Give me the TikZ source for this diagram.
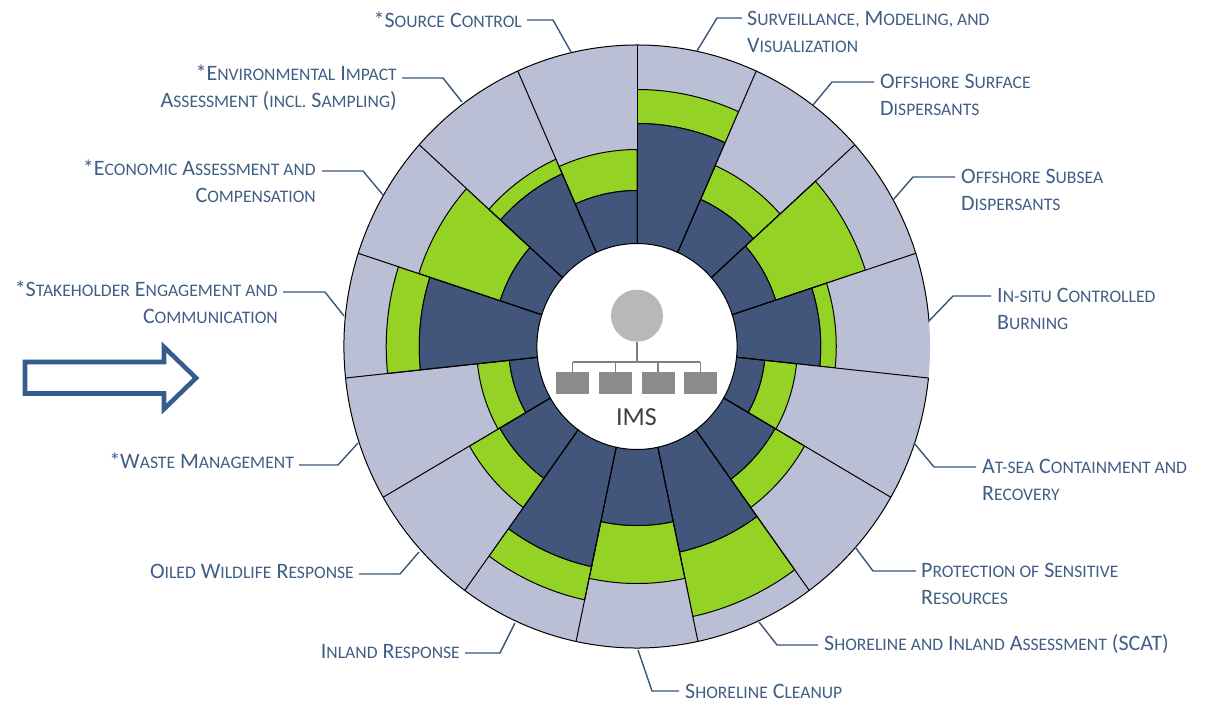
\documentclass[tikz,border=0pt]{standalone}
\usepackage{fontspec}
\setmainfont{Carlito}
\newcommand{\smc}[1]{{\fontsize{17.6}{27}\selectfont\MakeUppercase{#1}}}
\definecolor{ringblue}{HTML}{41567A}
\definecolor{ringgreen}{HTML}{95D226}
\definecolor{ringgrey}{HTML}{BBBFD5}
\definecolor{labelblue}{HTML}{3F5E85}
\definecolor{arrowblue}{HTML}{365C8C}
\begin{document}
\begin{tikzpicture}[x=1pt,y=-1pt,
    wedgeline/.style={draw=black,line width=1pt},
    leader/.style={draw=labelblue!90!black,line width=1.4pt},
    lbl/.style={inner sep=0pt,text=labelblue,font=\fontsize{22}{27}\selectfont},
    lbll/.style={lbl,anchor=west,align=left},
    lblr/.style={lbl,anchor=east,align=right},
    imsbox/.style={fill=black!45,minimum width=33pt,minimum height=22pt,inner sep=0pt},
    imsline/.style={draw=black!50,line width=1.2pt}]
\useasboundingbox (0,0) rectangle (1205,701);
% wheel
\begin{scope}[shift={(637,346.5)},x=.972pt,y=1pt]
\foreach \a/\rb/\rg in {66/223/257,42/161/198,18/150/247,-6/189/205,-30/132/165,-54/164/199,-78/210/276,-102/179/237,-126/225/259,-150/163/199,-174/132/165,162/224/258,138/148/236,114/189/205,90/156/197}{
    \fill[ringgrey](\a:\rg)arc[start angle=\a,delta angle=24,radius=\rg]--(\a+24:301.5)arc[start angle=\a+24,delta angle=-24,radius=301.5]--cycle;
    \filldraw[wedgeline,fill=ringgreen](\a:\rb)arc[start angle=\a,delta angle=24,radius=\rb]--(\a+24:\rg)arc[start angle=\a+24,delta angle=-24,radius=\rg]--cycle;
    \filldraw[wedgeline,fill=ringblue](\a:103)arc[start angle=\a,delta angle=24,radius=103]--(\a+24:\rb)arc[start angle=\a+24,delta angle=-24,radius=\rb]--cycle;
}
\foreach \a in {90,66,...,-246}{
    \draw[wedgeline](\a:103)--(\a:301.5);
}
\draw[wedgeline](5:301.5)arc[start angle=5,end angle=354,radius=301.5];
\end{scope}
% centre
\node[circle,fill=black!28,minimum size=52pt,inner sep=0pt](root)at(637,315.7){};
\node[imsbox](boxa)at(572.7,382.7){};
\node[imsbox](boxb)at(615.8,382.7){};
\node[imsbox](boxc)at(658,382.7){};
\node[imsbox](boxd)at(700.3,382.7){};
\coordinate(bus)at(637,362);
\draw[imsline](root)--(bus);
\draw[imsline](boxa.north|-bus)--(boxd.north|-bus);
\foreach \n in {boxa,boxb,boxc,boxd}{
    \draw[imsline](\n.north)--(\n.north|-bus);
}
\node[inner sep=0pt,text=black!75,font=\fontsize{26}{30}\selectfont](ims)at(636.5,417){IMS};
% labels
\node[lblr](source)at(522,20){*S\smc{ource} C\smc{ontrol}};
\node[lbll](surv)at(747,31.5){S\smc{urveillance,} M\smc{odeling, and}\\V\smc{isualization}};
\node[lbll](surface)at(880,94.5){O\smc{ffshore} S\smc{urface}\\D\smc{ispersants}};
\node[lbll](subsea)at(961,189.5){O\smc{ffshore} S\smc{ubsea}\\D\smc{ispersants}};
\node[lbll](insitu)at(997,309){I\smc{n-situ} C\smc{ontrolled}\\B\smc{urning}};
\node[lbll](atsea)at(982,480){A\smc{t-sea} C\smc{ontainment and}\\R\smc{ecovery}};
\node[lbll](protect)at(921,584){P\smc{rotection of} S\smc{ensitive}\\R\smc{esources}};
\node[lbll](scat)at(824,644){S\smc{horeline and} I\smc{nland} A\smc{ssessment} (SCAT)};
\node[lbl,anchor=base west](cleanup)at(685,698){S\smc{horeline} C\smc{leanup}};
\node[lblr](inland)at(460,651){I\smc{nland} R\smc{esponse}};
\node[lblr](oiled)at(354,571){O\smc{iled} W\smc{ildlife} R\smc{esponse}};
\node[lblr](waste)at(294,461){*W\smc{aste} M\smc{anagement}};
\node[lblr](stake)at(278,302){*S\smc{takeholder} E\smc{ngagement and}\\C\smc{ommunication}};
\node[lblr](econ)at(316,181){*E\smc{conomic} A\smc{ssessment and}\\C\smc{ompensation}};
\node[lblr](env)at(397,88){*E\smc{nvironmental} I\smc{mpact}\\A\smc{ssessment} (\smc{incl.} S\smc{ampling})};
% leaders
\coordinate(sourceb)at(553,20);\coordinate(sourcee)at(571,52);
\draw[leader]([xshift=5pt]source.east|-sourceb)--(sourceb)--(sourcee);
\coordinate(survb)at(717,18);\coordinate(surve)at(697,51);
\draw[leader]([xshift=-5pt]surv.west|-survb)--(survb)--(surve);
\coordinate(surfaceb)at(832,82);\coordinate(surfacee)at(813,105);
\draw[leader]([xshift=-6pt]surface.west|-surfaceb)--(surfaceb)--(surfacee);
\coordinate(subseab)at(913,177);\coordinate(subseae)at(893,200);
\draw[leader]([xshift=-6pt]subsea.west|-subseab)--(subseab)--(subseae);
\coordinate(insitub)at(953,296);\coordinate(insitue)at(928,322);
\draw[leader]([xshift=-6pt]insitu.west|-insitub)--(insitub)--(insitue);
\coordinate(atseab)at(934,467);\coordinate(atseae)at(914,443);
\draw[leader]([xshift=-6pt]atsea.west|-atseab)--(atseab)--(atseae);
\coordinate(protectb)at(873,571);\coordinate(protecte)at(855,547);
\draw[leader]([xshift=-5pt]protect.west|-protectb)--(protectb)--(protecte);
\coordinate(scatb)at(777,645);\coordinate(scate)at(759,622);
\draw[leader]([xshift=-6pt]scat.west|-scatb)--(scatb)--(scate);
\coordinate(cleanupb)at(652,691);\coordinate(cleanupe)at(638,650);
\draw[leader]([xshift=-6pt]cleanup.west|-cleanupb)--(cleanupb)--(cleanupe);
\coordinate(inlandb)at(500,653);\coordinate(inlande)at(515,623);
\draw[leader]([xshift=5pt]inland.east|-inlandb)--(inlandb)--(inlande);
\coordinate(oiledb)at(400,574);\coordinate(oilede)at(419,552);
\draw[leader]([xshift=5pt]oiled.east|-oiledb)--(oiledb)--(oilede);
\coordinate(wasteb)at(338,465);\coordinate(wastee)at(358,443);
\draw[leader]([xshift=5pt]waste.east|-wasteb)--(wasteb)--(wastee);
\coordinate(stakeb)at(325,292);\coordinate(stakee)at(344,316);
\draw[leader]([xshift=5pt]stake.east|-stakeb)--(stakeb)--(stakee);
\coordinate(econb)at(363,171);\coordinate(econe)at(383,195);
\draw[leader]([xshift=6pt]econ.east|-econb)--(econb)--(econe);
\coordinate(envb)at(443,78);\coordinate(enve)at(462,102);
\draw[leader]([xshift=5pt]env.east|-envb)--(envb)--(enve);
% arrow
\draw[draw=arrowblue,line width=4.6pt,fill=white,miter limit=8](25,362)--(164,362)--(164,347)--(196,378)--(164,409)--(164,393.5)--(25,393.5)--cycle;
\end{tikzpicture}
\end{document}
